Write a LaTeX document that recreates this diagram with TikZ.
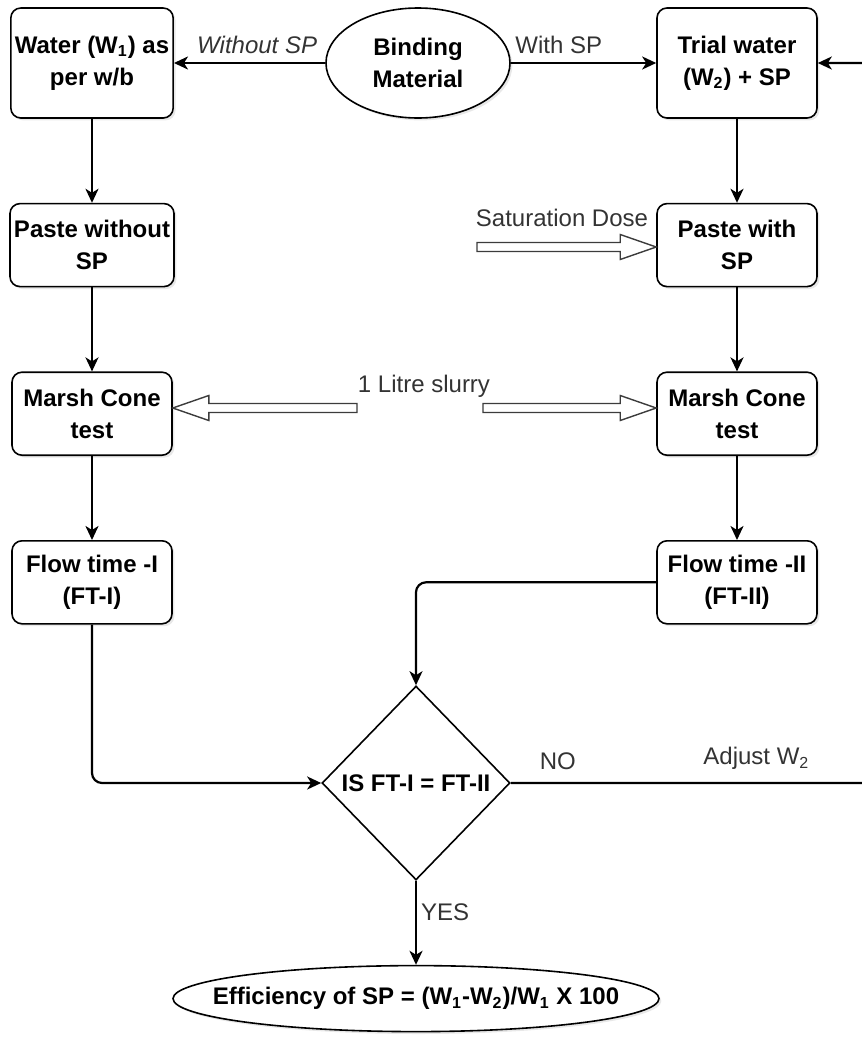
\documentclass[tikz,border=0pt]{standalone}
\usepackage{fontspec}
\setmainfont{Liberation Sans}
\usetikzlibrary{arrows.meta,positioning,shapes.geometric,calc,shadows}
\definecolor{lblgrey}{HTML}{333333}
\definecolor{fatgrey}{HTML}{3C3C3C}
\tikzset{
  >={Stealth[length=7pt,width=6.5pt,inset=2pt]},
  box/.style={draw,line width=0.8pt,rounded corners=5pt,fill=white,
              minimum width=80pt,minimum height=41.5pt,inner sep=2pt,align=center,
              font=\bfseries\fontsize{12}{16}\selectfont,
              drop shadow={shadow xshift=1.2pt,shadow yshift=-1.2pt,opacity=0.18}},
  tall/.style={minimum height=55pt},
  blob/.style={draw,line width=0.8pt,ellipse,fill=white,inner sep=1pt,align=center,
               font=\bfseries\fontsize{12}{16}\selectfont,
               drop shadow={shadow xshift=1.2pt,shadow yshift=-1.2pt,opacity=0.18}},
  decision/.style={draw,line width=0.8pt,diamond,fill=white,inner sep=0pt,
                   minimum width=94pt,minimum height=97pt,
                   font=\bfseries\fontsize{12}{16}\selectfont},
  flow/.style={->,line width=1.1pt},
  lbl/.style={font=\fontsize{12}{14}\selectfont,text=lblgrey,inner sep=2pt},
  fatarr/.style={draw=fatgrey,line width=0.7pt,fill=white,line join=miter},
}
% hollow block arrow: tail coordinate, tip coordinate, direction (1 right, -1 left)
\newcommand{\fatarrow}[3]{%
  \draw[fatarr] ($(#1)+(0,-4.5)$) -- ($(#2)+({-36*#3},-4.5)$) -- ($(#2)+({-36*#3},-12.5)$)
    -- (#2) -- ($(#2)+({-36*#3},12.5)$) -- ($(#2)+({-36*#3},4.5)$) -- ($(#1)+(0,4.5)$) -- cycle;}

\begin{document}
\begin{tikzpicture}[x=0.5pt,y=-0.5pt,node distance=42pt and 75pt]
  \useasboundingbox (0,0) rectangle (862,1045);

  \node[box,tall] (water) at (92,63) {Water (W\textsubscript{1}) as\\per w/b};
  \node[blob,minimum width=92pt,minimum height=55pt] (bind) at (418,63) {Binding\\Material};
  \node[box,tall] (trial) at (737,63) {Trial water\\(W\textsubscript{2}) + SP};

  \node[box,below=of water] (pastewo) {Paste without\\SP};
  \node[box,below=of pastewo] (marshwo) {Marsh Cone\\test};
  \node[box,below=of marshwo] (flowwo) {Flow time -I\\(FT-I)};

  \node[box,below=of trial] (pastew) {Paste with\\SP};
  \node[box,below=of pastew] (marshw) {Marsh Cone\\test};
  \node[box,below=of marshw] (floww) {Flow time -II\\(FT-II)};

  \node[decision] (check) at (416,783) {\makebox[0pt]{IS FT-I = FT-II}};
  \node[blob,below=of check,minimum width=243pt,minimum height=33pt] (eff)
    {\makebox[0pt]{Efficiency of SP = (W\textsubscript{1}-W\textsubscript{2})/W\textsubscript{1} X 100}};

  \draw[flow] (bind) -- node[lbl,above=2pt,pos=0.45]{\itshape Without SP} (water);
  \draw[flow] (bind) -- node[lbl,above=2pt,pos=0.33]{With SP} (trial);
  \draw[flow] (water) -- (pastewo);
  \draw[flow] (pastewo) -- (marshwo);
  \draw[flow] (marshwo) -- (flowwo);
  \draw[flow] (trial) -- (pastew);
  \draw[flow] (pastew) -- (marshw);
  \draw[flow] (marshw) -- (floww);
  \draw[flow,rounded corners=5pt] (flowwo) |- (check);
  \draw[flow,rounded corners=5pt] (floww) -| (check);

  % the return line runs just past the right edge of the page
  \coordinate (loopend) at (872,783);
  \draw[flow,rounded corners=5pt] (check) -- node[lbl,above=4pt,pos=0.13]{NO}
    node[lbl,above=4pt,pos=0.68]{Adjust W\textsubscript{2}} (loopend) |- (trial);
  \draw[flow] (check) -- node[lbl,right,pos=0.38]{YES} (eff);

  \node[lbl] (satlbl) at (562,218) {Saturation Dose};
  \coordinate (satfrom) at (477,247);
  \coordinate (satto) at (satfrom -| pastew.west);
  \fatarrow{satfrom}{satto}{1}

  \node[lbl] (slurry) at (424,386) {1 Litre slurry};
  \coordinate (slurryl) at (357,408);
  \coordinate (slurryr) at (483,408);
  \coordinate (slurrylto) at (slurryl -| marshwo.east);
  \coordinate (slurryrto) at (slurryr -| marshw.west);
  \fatarrow{slurryl}{slurrylto}{-1}
  \fatarrow{slurryr}{slurryrto}{1}
\end{tikzpicture}
\end{document}
